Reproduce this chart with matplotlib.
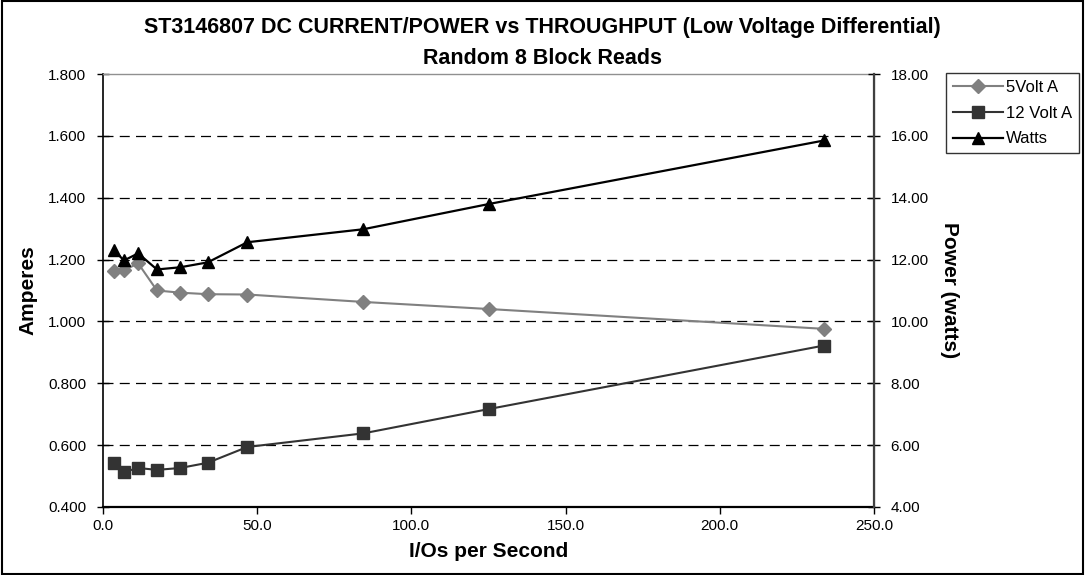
import matplotlib
matplotlib.use('Agg')
import matplotlib.pyplot as plt
from matplotlib.patches import Rectangle

plt.rcParams['font.family'] = ['Liberation Sans', 'DejaVu Sans']

# data
ios = [3.6, 6.8, 11.4, 17.5, 25.0, 34.0, 46.8, 84.4, 125.3, 233.8]
amps_5v = [1.163, 1.165, 1.188, 1.100, 1.093, 1.088, 1.087, 1.063, 1.040, 0.976]
amps_12v = [0.543, 0.513, 0.526, 0.520, 0.526, 0.543, 0.594, 0.638, 0.717, 0.922]
watts = [12.30, 11.97, 12.20, 11.68, 11.75, 11.91, 12.56, 12.98, 13.80, 15.85]

left_ticks = [0.4, 0.6, 0.8, 1.0, 1.2, 1.4, 1.6, 1.8]
right_ticks = [4, 6, 8, 10, 12, 14, 16, 18]
x_ticks = [0, 50, 100, 150, 200, 250]

fig = plt.figure(figsize=(10.85, 5.75), dpi=100)
ax = fig.add_axes([0.0949, 0.1183, 0.7106, 0.753])
ax2 = ax.twinx()

l1, = ax.plot(ios, amps_5v, color='#808080', lw=1.5, marker='D', ms=7,
              mec='#808080', label='5Volt A', zorder=3)
l2, = ax.plot(ios, amps_12v, color='#333333', lw=1.5, marker='s', ms=8,
              mec='#333333', label='12 Volt A', zorder=3)
l3, = ax2.plot(ios, watts, color='black', lw=1.6, marker='^', ms=9,
               label='Watts', zorder=3)

ax.set_xlim(0, 250)
ax.set_ylim(0.4, 1.8)
ax2.set_ylim(4, 18)
ax.set_xticks(x_ticks)
ax.set_xticklabels(['%.1f' % v for v in x_ticks], fontsize=11)
ax.set_yticks(left_ticks)
ax.set_yticklabels(['%.3f' % v for v in left_ticks], fontsize=11)
ax2.set_yticks(right_ticks)
ax2.set_yticklabels(['%.2f' % v for v in right_ticks], fontsize=11)

# dashed grid
for v in left_ticks[1:-1]:
    ax.axhline(v, color='black', lw=0.9, ls=(0, (8, 5)), zorder=1)

ax.tick_params(axis='y', direction='inout', length=8, width=1, pad=8)
ax2.tick_params(axis='y', direction='inout', length=8, width=1, colors='black', pad=8)
ax.tick_params(axis='x', direction='out', length=5, width=1, pad=4)

ax.spines['top'].set_color('#909090')
ax.spines['top'].set_linewidth(1.0)
ax2.spines['top'].set_visible(False)
ax.spines['bottom'].set_linewidth(1.6)
ax.spines['left'].set_linewidth(1.2)
ax2.spines['right'].set_linewidth(1.6)
ax2.spines['right'].set_color('#404040')
ax2.spines['left'].set_visible(False)
ax2.spines['bottom'].set_visible(False)

ax.set_xlabel('I/Os per Second', fontsize=15, fontweight='bold', labelpad=6)
ax.set_ylabel('Amperes', fontsize=15, fontweight='bold', labelpad=8)
ax2.set_ylabel('Power (watts)', fontsize=15, fontweight='bold', rotation=270,
               labelpad=22)

fig.text(0.5, 0.952, 'ST3146807 DC CURRENT/POWER vs THROUGHPUT (Low Voltage Differential)',
         ha='center', va='center', fontsize=15.5, fontweight='bold')
fig.text(0.5, 0.898, 'Random 8 Block Reads', ha='center', va='center',
         fontsize=15.5, fontweight='bold')

leg = fig.legend(handles=[l1, l2, l3], loc='upper left',
                 bbox_to_anchor=(0.872, 0.873), fontsize=12, frameon=True,
                 fancybox=False, edgecolor='black', handlelength=3.0,
                 borderpad=0.4, labelspacing=0.65, handletextpad=0.2,
                 borderaxespad=0)
leg.get_frame().set_linewidth(1.0)

# outer chart border
fig.patches.append(Rectangle((0.002, 0.002), 0.996, 0.996, transform=fig.transFigure,
                             fill=False, edgecolor='black', lw=1.5))

fig.savefig('out.png', dpi=100)
